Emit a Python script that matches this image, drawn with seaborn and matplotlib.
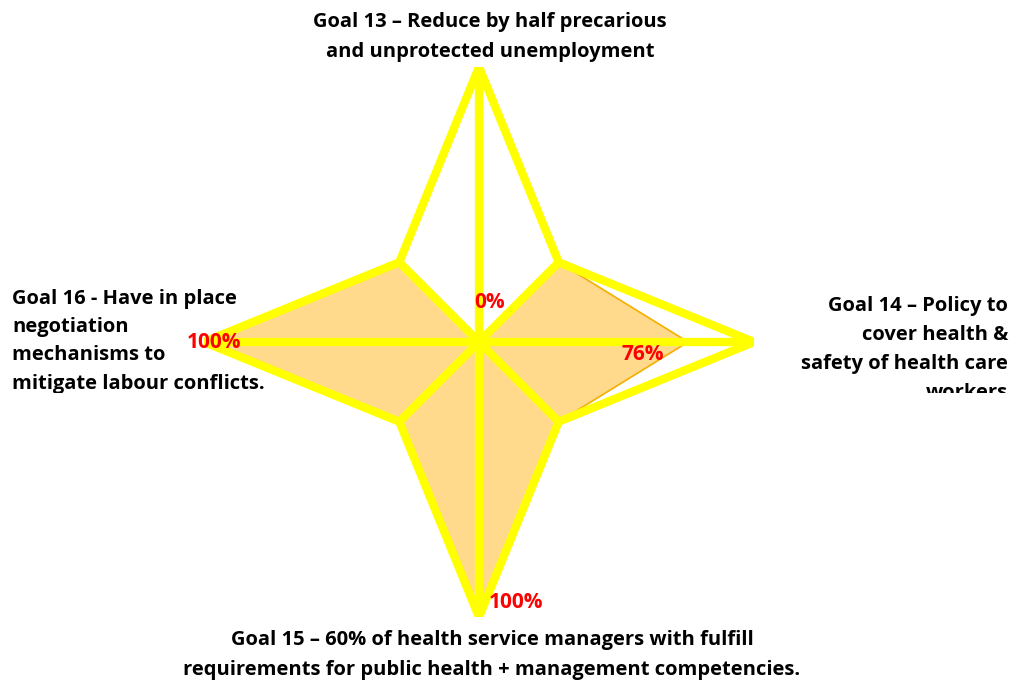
import numpy as np
import matplotlib
matplotlib.use("Agg")
import matplotlib.pyplot as plt
import seaborn as sns
from matplotlib.transforms import Bbox

# data: 8 spokes, the 4 goals plus 4 unlabeled in-between spokes
categories = ["Goal 13", "", "Goal 14", "", "Goal 15", "", "Goal 16", ""]
outline = [1.0, 0.41, 1.0, 0.41, 1.0, 0.41, 1.0, 0.41]
achieved = [0.0, 0.41, 0.76, 0.41, 1.0, 0.41, 1.0, 0.41]
value_labels = ["0%", "", "76%", "", "100%", "", "100%", ""]

goal13 = "Goal 13 \u2013 Reduce by half precarious\nand unprotected unemployment"
goal14 = "Goal 14 \u2013 Policy to\ncover health &\nsafety of health care\nworkers"
goal15 = ("Goal 15 \u2013 60% of health service managers with fulfill\n"
          "requirements for public health + management competencies.")
goal16 = "Goal 16 - Have in place\nnegotiation\nmechanisms to\nmitigate labour conflicts."

sns.set_theme(style="white")
plt.rcParams["font.family"] = ["Open Sans", "DejaVu Sans"]

W, H = 1013, 683
fig = plt.figure(figsize=(W / 100, H / 100), dpi=100)
cx, cy, R = 479, 342, 275
ax = fig.add_axes([(cx - R) / W, (H - cy - R) / H, 2 * R / W, 2 * R / H], projection="polar")
ax.set_theta_zero_location("N")
ax.set_theta_direction(-1)
ax.set_ylim(0, 1)
ax.grid(False)
ax.spines["polar"].set_visible(False)
ax.set_xticks([])
ax.set_yticks([])
ax.patch.set_alpha(0)

angles = np.linspace(0, 2 * np.pi, len(categories), endpoint=False)
closed = np.append(angles, angles[0])

yellow = "#FFFF00"

# achieved area
ax.fill(closed, achieved + achieved[:1], color="#FFDA8C", zorder=1)
ax.plot(closed, achieved + achieved[:1], color="#F5B000", lw=1.2, zorder=2)

# spokes
for a, r in zip(angles, outline):
    ax.plot([a, a], [0, r], color=yellow, lw=6, solid_capstyle="butt", zorder=3)

# star outline
ax.plot(closed, outline + outline[:1], color=yellow, lw=6, solid_joinstyle="miter", zorder=4)

# value labels
offsets = {0: (11, 39), 2: (-45, -12), 4: (37, 14), 6: (10, 0)}
for i, lab in enumerate(value_labels):
    if lab:
        ax.annotate(lab, (angles[i], achieved[i]), xytext=offsets[i], textcoords="offset pixels",
                    ha="center", va="center", color="#FF0000", fontsize=15, fontweight="bold", zorder=5)

# goal labels
fs = 14.5
kw = dict(fontsize=fs, fontweight="bold", color="black")
fig.text(490 / W, 1 - 37 / H, goal13, ha="center", va="center", linespacing=1.65, **kw)
fig.text(492 / W, 1 - 655 / H, goal15, ha="center", va="center", linespacing=1.65, **kw)
clip = Bbox.from_extents(0, H - 393, W, H)
t14 = fig.text(1008 / W, 1 - 296 / H, goal14, ha="right", va="top", multialignment="right",
               linespacing=1.6, **kw)
t16 = fig.text(12 / W, 1 - 289 / H, goal16, ha="left", va="top", linespacing=1.55, **kw)
for t in (t14, t16):
    t.set_clip_box(clip)
    t.set_clip_on(True)

fig.savefig("out.png", dpi=100, facecolor="white")
